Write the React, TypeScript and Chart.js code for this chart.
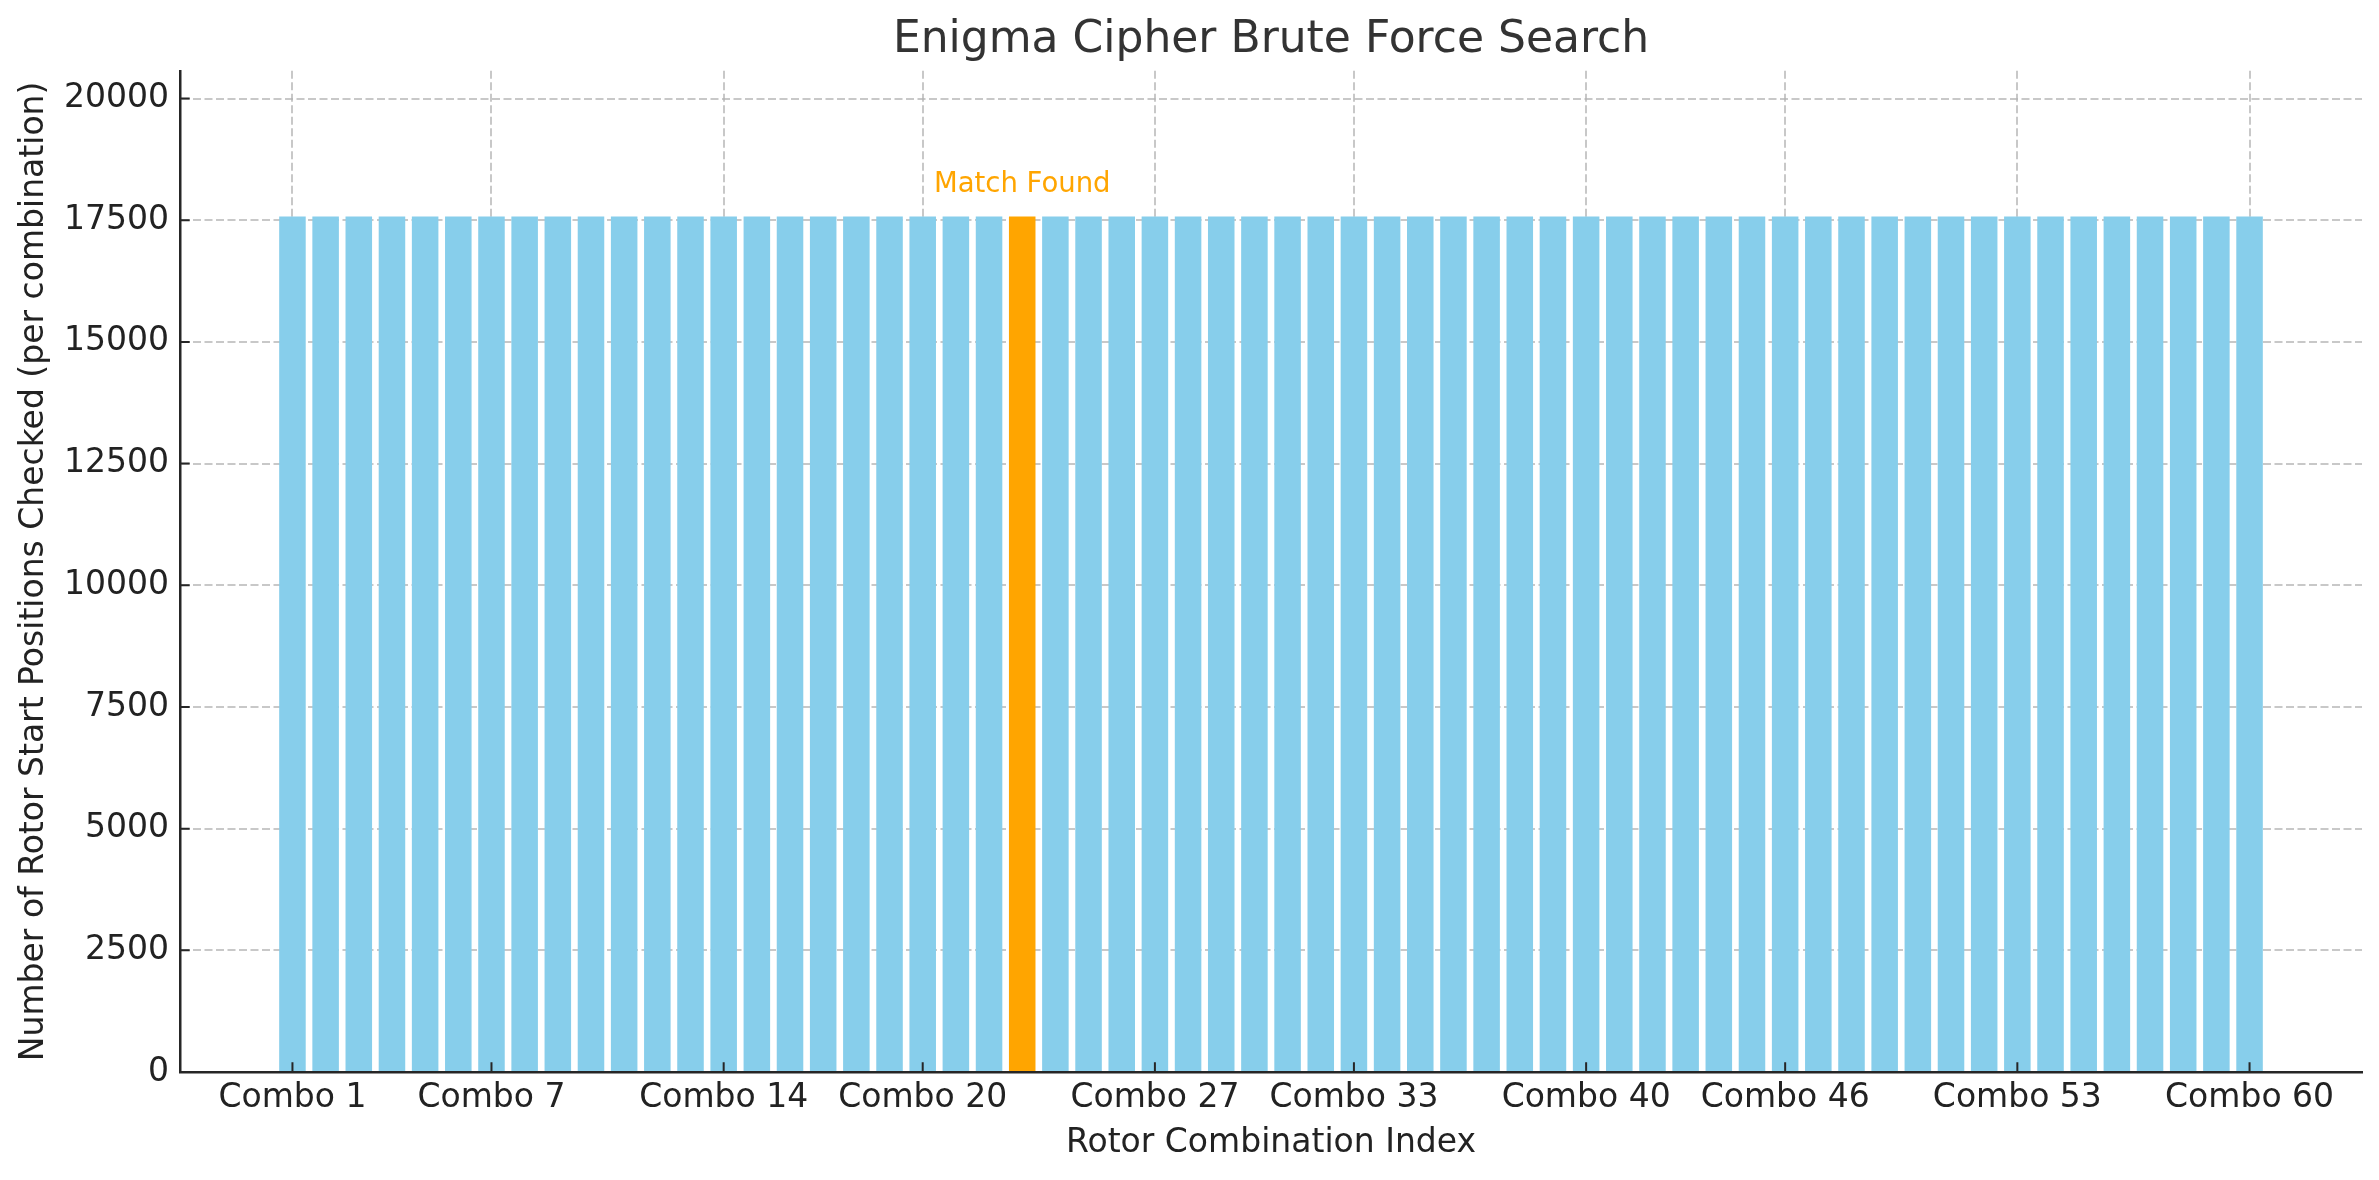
import { Chart, registerables } from "chart.js";
import { useEffect, useRef } from "react";

Chart.register(...registerables);

const comboLabels = [
  "Combo 1", "Combo 2", "Combo 3", "Combo 4", "Combo 5", "Combo 6", "Combo 7", "Combo 8", "Combo 9", "Combo 10",
  "Combo 11", "Combo 12", "Combo 13", "Combo 14", "Combo 15", "Combo 16", "Combo 17", "Combo 18", "Combo 19", "Combo 20",
  "Combo 21", "Combo 22", "Combo 23", "Combo 24", "Combo 25", "Combo 26", "Combo 27", "Combo 28", "Combo 29", "Combo 30",
  "Combo 31", "Combo 32", "Combo 33", "Combo 34", "Combo 35", "Combo 36", "Combo 37", "Combo 38", "Combo 39", "Combo 40",
  "Combo 41", "Combo 42", "Combo 43", "Combo 44", "Combo 45", "Combo 46", "Combo 47", "Combo 48", "Combo 49", "Combo 50",
  "Combo 51", "Combo 52", "Combo 53", "Combo 54", "Combo 55", "Combo 56", "Combo 57", "Combo 58", "Combo 59", "Combo 60",
];

// positions checked per rotor combination (26^3)
const positionsChecked = [
  17576, 17576, 17576, 17576, 17576, 17576, 17576, 17576, 17576, 17576,
  17576, 17576, 17576, 17576, 17576, 17576, 17576, 17576, 17576, 17576,
  17576, 17576, 17576, 17576, 17576, 17576, 17576, 17576, 17576, 17576,
  17576, 17576, 17576, 17576, 17576, 17576, 17576, 17576, 17576, 17576,
  17576, 17576, 17576, 17576, 17576, 17576, 17576, 17576, 17576, 17576,
  17576, 17576, 17576, 17576, 17576, 17576, 17576, 17576, 17576, 17576,
];

const matchIndex = 22;
const xTickIndexes = [0, 6, 13, 19, 26, 32, 39, 45, 52, 59];
const yTickValues = [0, 2500, 5000, 7500, 10000, 12500, 15000, 17500, 20000];

const BAR_COLOR = "#87CEEB";
const MATCH_COLOR = "#FFA500";
const TEXT_COLOR = "#222222";
const SPINE_COLOR = "#262626";
const GRID_COLOR = "rgba(176,176,176,0.7)";
const FONT = "'DejaVu Sans', 'Liberation Sans', sans-serif";
const MATCH_LABEL_OFFSET = 514;

// matplotlib style inward tick marks
const innerTicks = {
  id: "innerTicks",
  afterDraw(chart: any) {
    const { ctx, chartArea, scales } = chart;
    const len = 9.7;
    ctx.save();
    ctx.strokeStyle = SPINE_COLOR;
    ctx.lineWidth = 2;
    ctx.beginPath();
    scales.x.ticks.forEach((t: any) => {
      const px = scales.x.getPixelForValue(t.value);
      ctx.moveTo(px, chartArea.bottom);
      ctx.lineTo(px, chartArea.bottom - len);
    });
    scales.y.ticks.forEach((t: any) => {
      const py = scales.y.getPixelForValue(t.value);
      ctx.moveTo(chartArea.left, py);
      ctx.lineTo(chartArea.left + len, py);
    });
    ctx.stroke();
    ctx.restore();
  },
};

const matchLabel = {
  id: "matchLabel",
  afterDraw(chart: any) {
    const { ctx, scales } = chart;
    const px = scales.x.getPixelForValue(matchIndex);
    const py = scales.y.getPixelForValue(positionsChecked[matchIndex] + MATCH_LABEL_OFFSET);
    ctx.save();
    ctx.font = `27.5px ${FONT}`;
    ctx.fillStyle = MATCH_COLOR;
    ctx.textAlign = "center";
    ctx.textBaseline = "alphabetic";
    ctx.fillText("Match Found", px, py);
    ctx.restore();
  },
};

export default function App() {
  const canvasRef = useRef<HTMLCanvasElement>(null);
  const chartInstance = useRef<Chart | null>(null);

  useEffect(() => {
    document.body.style.margin = "0";
    if (!canvasRef.current) return;

    const data = {
      datasets: [
        {
          label: "Positions Checked",
          data: positionsChecked.map((v, i) => ({ x: i, y: v })),
          backgroundColor: positionsChecked.map((_, i) => (i === matchIndex ? MATCH_COLOR : BAR_COLOR)),
          borderWidth: 0,
          barPercentage: 0.8,
          categoryPercentage: 1.0,
        },
      ],
    };

    const config = {
      type: "bar",
      data: data,
      options: {
        responsive: false,
        animation: false,
        devicePixelRatio: 1,
        layout: { padding: { left: 0, right: 17, top: 0, bottom: 0 } },
        plugins: {
          legend: { display: false },
          tooltip: { enabled: false },
          title: {
            display: true,
            fullSize: false,
            text: "Enigma Cipher Brute Force Search",
            color: "#333333",
            font: { family: FONT, size: 44, weight: "normal" },
            padding: { top: 14, bottom: 4 },
          },
        },
        scales: {
          x: {
            type: "linear",
            min: -3.39,
            max: 62.39,
            offset: false,
            z: 1,
            afterBuildTicks: (scale: any) => {
              scale.ticks = xTickIndexes.map((v) => ({ value: v }));
            },
            afterFit: (scale: any) => {
              scale.height = 108;
            },
            ticks: {
              autoSkip: false,
              maxRotation: 0,
              padding: 7,
              color: TEXT_COLOR,
              font: { family: FONT, size: 33 },
              callback: (value: any) => comboLabels[value],
            },
            grid: {
              offset: false,
              color: GRID_COLOR,
              lineWidth: 2,
              drawTicks: false,
            },
            border: { display: true, color: SPINE_COLOR, width: 2.5, dash: [8, 3.5] },
            title: {
              display: true,
              text: "Rotor Combination Index",
              color: TEXT_COLOR,
              font: { family: FONT, size: 33 },
              padding: { top: 0, bottom: 16.5 },
            },
          },
          y: {
            type: "linear",
            min: 0,
            max: 20570,
            z: 1,
            afterBuildTicks: (scale: any) => {
              scale.ticks = yTickValues.map((v) => ({ value: v }));
            },
            afterFit: (scale: any) => {
              scale.width = 180;
            },
            ticks: {
              padding: 11,
              color: TEXT_COLOR,
              font: { family: FONT, size: 33 },
              callback: (value: any) => String(value),
            },
            grid: {
              color: GRID_COLOR,
              lineWidth: 2,
              drawTicks: false,
            },
            border: { display: true, color: SPINE_COLOR, width: 2.5, dash: [8, 3.5] },
            title: {
              display: true,
              text: "Number of Rotor Start Positions Checked (per combination)",
              color: TEXT_COLOR,
              font: { family: FONT, size: 33 },
              padding: { top: 15, bottom: 0 },
            },
          },
        },
      },
      plugins: [innerTicks, matchLabel],
    };

    if (chartInstance.current) {
      chartInstance.current.destroy();
    }
    chartInstance.current = new Chart(canvasRef.current, config as any);

    return () => {
      if (chartInstance.current) {
        chartInstance.current.destroy();
        chartInstance.current = null;
      }
    };
  }, []);

  return (
    <div style={{ width: 2379, height: 1180, background: "#ffffff" }}>
      <canvas ref={canvasRef} width={2379} height={1180} style={{ width: 2379, height: 1180 }} />
    </div>
  );
}
